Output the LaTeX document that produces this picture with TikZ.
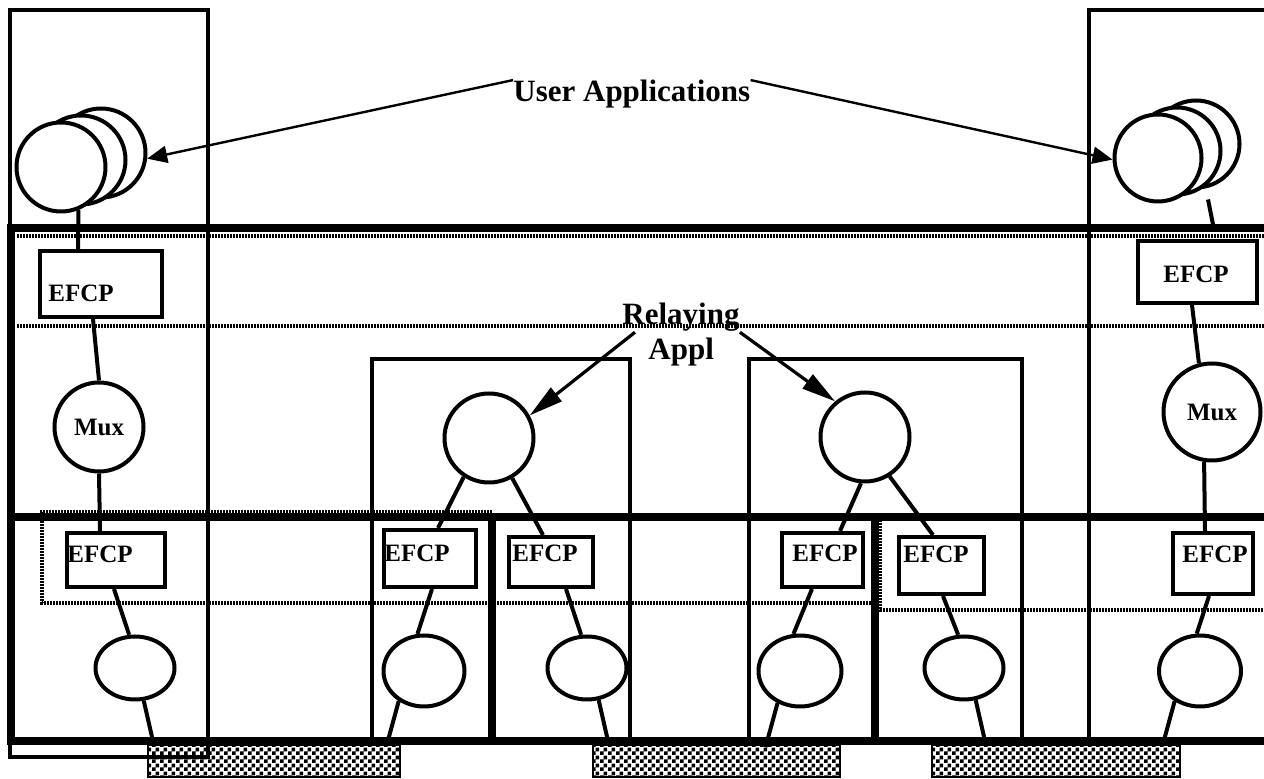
\documentclass[tikz,border=0pt]{standalone}
\usepackage{fontspec}
\setmainfont{Liberation Serif}
\usepackage{tikz}
\usetikzlibrary{shapes.geometric, arrows.meta, patterns, fit, calc}
\pgfdeclarepatternformonly{scacchiera}{\pgfpointorigin}{\pgfqpoint{4pt}{4pt}}{\pgfqpoint{4pt}{4pt}}{%
  \pgfpathrectangle{\pgfpointorigin}{\pgfqpoint{2pt}{2pt}}%
  \pgfpathrectangle{\pgfqpoint{2pt}{2pt}}{\pgfqpoint{2pt}{2pt}}%
  \pgfusepath{fill}%
}

\begin{document}
\begin{tikzpicture}[x=0.5pt, y=-0.5pt,
    sottile/.style={line width=2pt},
    spesso/.style={line width=4pt},
    tratt/.style={line width=1.6pt, dash pattern=on 0.8pt off 0.7pt},
    cerchio/.style={circle, draw, line width=2pt, fill=white, inner sep=0pt, font=\bfseries\fontsize{12.5}{14}\selectfont},
    ovale/.style={ellipse, draw, line width=2pt, inner sep=0pt},
    scatola/.style={rectangle, draw, line width=2pt, inner sep=0pt},
    scritta/.style={inner sep=0pt, font=\bfseries\fontsize{12.5}{14}\selectfont},
    titolo/.style={inner sep=0pt, font=\bfseries\fontsize{15.5}{18}\selectfont},
    filo/.style={line width=2pt},
    freccia/.style={line width=1.2pt, -{Triangle[length=10pt, width=8.5pt]}},
    frecciona/.style={line width=1.6pt, -{Triangle[length=17pt, width=8.5pt]}},
    barra/.style={draw, line width=1pt, pattern=scacchiera}]
    % parametri
    \pgfmathsetmacro{\largh}{1264}
    \pgfmathsetmacro{\alt}{779}
    \pgfmathsetmacro{\fondo}{741}
    % Bordo
    \useasboundingbox (0,0) rectangle (\largh,\alt);
    \clip (0,0) rectangle (\largh,\alt);
    % Sistemi (riquadri sottili)
    \draw[sottile] (10,10) rectangle (208,757);
    \draw[sottile] (1089,10) rectangle (1290,\fondo);
    \draw[sottile] (372,359) rectangle (630,\fondo);
    \draw[sottile] (749,359) rectangle (1022,\fondo);
    % Linee tratteggiate
    \draw[tratt] (17,236) -- (\largh,236);
    \draw[tratt] (17,326) -- (\largh,326);
    \draw[tratt] (492,512) -- (42,512) -- (42,603) -- (875,603);
    \draw[tratt] (880,520) -- (880,610) -- (\largh,610);
    % Livelli (linee spesse)
    \draw[spesso] (\largh+20,228) -- (11,228) -- (11,\fondo) -- (\largh+20,\fondo);
    \draw[spesso] (7,517) -- (\largh,517);
    \draw[spesso] (492,517) -- (492,\fondo);
    \draw[spesso] (875,517) -- (875,\fondo);
    % Mezzi fisici
    \draw[barra] (148,745) rectangle (400,777);
    \draw[barra] (593,745) rectangle (840,777);
    \draw[barra] (932,745) rectangle (1180,777);
    % Applicazioni utente
    \foreach \i/\dx/\dy in {3/40/14, 2/20/7, 1/0/0}{
        \node[cerchio, minimum size=44.5pt] (uL\i) at (61+\dx,167-\dy) {};
    }
    \foreach \i/\dx/\dy in {3/38/14, 2/19/7, 1/0/0}{
        \node[cerchio, minimum size=43.5pt] (uR\i) at (1158+\dx,158-\dy) {};
    }
    \node[titolo, anchor=base west] (tUA) at (513,102) {User Applications};
    \draw[freccia] (tUA.north west) -- (uL3.-7);
    \draw[freccia] (tUA.north east) -- (uR1.182);
    % Colonna sinistra
    \node[scatola, fit={(40,251) (162,317)}] (eU1) {};
    \node[scritta, anchor=base west] (tEU1) at (48,302) {EFCP};
    \node[cerchio, minimum size=44.5pt] (muxL) at (99,427) {Mux};
    \node[scatola, fit={(67,533) (165,587)}] (eL) {};
    \node[scritta, anchor=base west] (tEL) at (67,563) {EFCP};
    \node[ovale, minimum width=39.5pt, minimum height=31.5pt] (oL) at (135,668) {};
    \draw[filo] (uL1.-68) -- ($(eU1.north west)+(40,0)$);
    \draw[filo] ($(eU1.south west)+(55,0)$) -- (muxL.north);
    \draw[filo] (muxL.south) -- ($(eL.north west)+(35,0)$);
    \draw[filo] ($(eL.south west)+(49,0)$) -- (oL.100);
    \draw[filo] (oL.-75) -- ++(10,44);
    % Colonna destra
    \node[scatola, fit={(1138,241) (1257,303)}] (eU2) {};
    \node[scritta, anchor=base west] (tEU2) at (1163,283) {EFCP};
    \node[cerchio, minimum size=48.5pt] (muxR) at (1212,412) {Mux};
    \node[scatola, fit={(1173,533) (1253,594)}] (eR) {};
    \node[scritta, anchor=base west] (tER) at (1182,563) {EFCP};
    \node[ovale, minimum width=41pt, minimum height=35.5pt] (oR) at (1200,671) {};
    \draw[filo] ($(uR3.south)+(12,10)$) -- ++(6,30);
    \draw[filo] ($(eU2.south west)+(56,0)$) -- (muxR.105);
    \draw[filo] (muxR.-99) -- ($(eR.north west)+(34,0)$);
    \draw[filo] ($(eR.south west)+(38,0)$) -- (oR.95);
    \draw[filo] (oR.-130) -- ++(-12,44);
    % Relaying
    \node[titolo, anchor=base west] (tRel) at (622,325) {Relaying};
    \node[titolo, anchor=base west] (tAppl) at (648,360) {Appl};
    \node[cerchio, minimum size=44.5pt] (rA) at (489,438) {};
    \node[cerchio, minimum size=44.5pt] (rB) at (865,437) {};
    \draw[frecciona] ($(tRel.south west)+(13,0)$) -- (rA.29);
    \draw[frecciona] (tRel.south east) -- (rB.130);
    % EFCP sotto i relay
    \node[scatola, fit={(384,530) (476,587)}] (eA1) {};
    \node[scritta, anchor=base west] (tEA1) at (384,562) {EFCP};
    \node[scatola, fit={(509,537) (593,587)}] (eA2) {};
    \node[scritta, anchor=base west] (tEA2) at (512,562) {EFCP};
    \node[scatola, fit={(782,533) (863,587)}] (eB1) {};
    \node[scritta, anchor=base west] (tEB1) at (792,562) {EFCP};
    \node[scatola, fit={(899,537) (984,594)}] (eB2) {};
    \node[scritta, anchor=base west] (tEB2) at (903,563) {EFCP};
    \node[ovale, minimum width=40.5pt, minimum height=35.5pt] (oA1) at (424,671) {};
    \node[ovale, minimum width=39.5pt, minimum height=31.5pt] (oA2) at (587,668) {};
    \node[ovale, minimum width=41.5pt, minimum height=35.5pt] (oB1) at (800,671) {};
    \node[ovale, minimum width=39.5pt, minimum height=31.5pt] (oB2) at (964,668) {};
    \draw[filo] (rA.-123) -- ($(eA1.north west)+(56,0)$);
    \draw[filo] (rA.-60) -- ($(eA2.north west)+(36,0)$);
    \draw[filo] ($(eA1.south west)+(50,0)$) -- (oA1.100);
    \draw[filo] (oA1.-130) -- ++(-12,44);
    \draw[filo] ($(eA2.south west)+(59,0)$) -- (oA2.100);
    \draw[filo] (oA2.-70) -- ++(10,44);
    \draw[filo] (rB.-95) -- ($(eB1.north west)+(60,0)$);
    \draw[filo] (rB.-58) -- ($(eB2.north west)+(36,0)$);
    \draw[filo] ($(eB1.south west)+(32,0)$) -- (oB1.100);
    \draw[filo] (oB1.-125) -- ++(-12,44);
    \draw[filo] ($(eB2.south west)+(46,0)$) -- (oB2.100);
    \draw[filo] (oB2.-70) -- ++(10,44);
\end{tikzpicture}
\end{document}
